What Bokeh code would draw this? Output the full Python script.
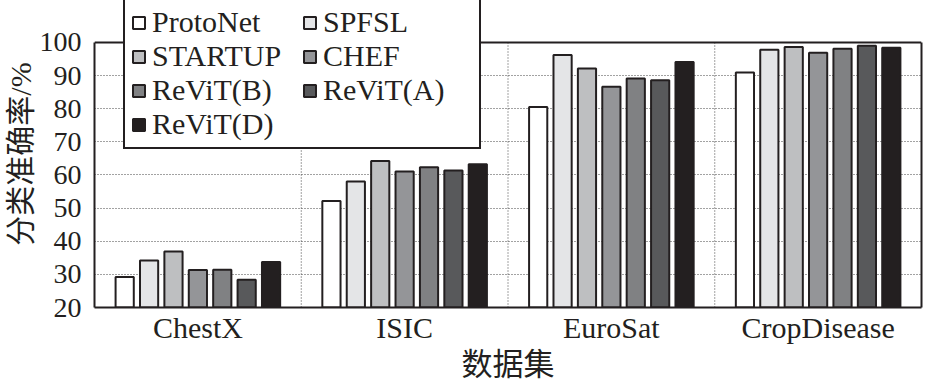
from bokeh.plotting import figure
from bokeh.models import (ColumnDataSource, Range1d, FixedTicker, Legend, LegendItem,
                          LinearAxis, Grid)
from bokeh.transform import dodge
from bokeh.embed import file_html
from bokeh.resources import INLINE

categories = ["ChestX", "ISIC", "EuroSat", "CropDisease"]
methods = ["ProtoNet", "SPFSL", "STARTUP", "CHEF", "ReViT(B)", "ReViT(A)", "ReViT(D)"]
protonet = [29.2, 52.1, 80.5, 90.9]
spfsl = [34.2, 58.0, 96.2, 97.8]
startup = [36.9, 64.2, 92.1, 98.6]
chef = [31.3, 61.0, 86.6, 96.9]
revit_b = [31.4, 62.3, 89.1, 98.1]
revit_a = [28.4, 61.3, 88.6, 99.0]
revit_d = [33.7, 63.2, 94.1, 98.4]
series = [protonet, spfsl, startup, chef, revit_b, revit_a, revit_d]
colors = ["#ffffff", "#e4e5e7", "#bebfc1", "#949598", "#808183", "#58595b", "#231f20"]
y_ticks = [20, 30, 40, 50, 60, 70, 80, 90, 100]

y_lo, y_hi = y_ticks[0], y_ticks[-1]
n_cat = len(categories)
centers = [i + 0.5 for i in range(n_cat)]
data = {"x": centers}
for m, s in zip(methods, series):
    data[m] = s
src = ColumnDataSource(data)

# the frame reaches the top of the canvas so that the legend can rise above the 100 line
y_top = 112.63
p = figure(width=925, height=384, output_backend="svg", toolbar_location=None,
           x_range=Range1d(0, n_cat), y_range=Range1d(y_lo, y_top),
           min_border_left=93, min_border_right=4, min_border_top=0, min_border_bottom=76)
p.outline_line_color = None

dark = "#231f20"
dot = "#444444"

# vertical dotted separators between the dataset groups (from y_lo to y_hi only)
bounds_x = list(range(1, n_cat))
p.segment(x0=bounds_x, y0=[y_lo] * len(bounds_x), x1=bounds_x, y1=[y_hi] * len(bounds_x),
          line_color=dot, line_dash="1 2", line_width=1, level="underlay")

pitch = 0.118
items = {}
for j, m in enumerate(methods):
    r = p.vbar(x=dodge("x", (j - 3) * pitch, range=p.x_range), top=m, bottom=y_lo,
               width=0.088, source=src, fill_color=colors[j],
               line_color=dark, line_width=2)
    items[m] = LegendItem(label=m, renderers=[r])

serif = "Liberation Serif"
cjk = "Liberation Serif, Noto Sans CJK SC"

# axes
p.xaxis.ticker = FixedTicker(ticks=centers)
p.xaxis.major_label_overrides = {c: n for c, n in zip(centers, categories)}
p.xaxis.major_label_text_font = serif
p.xaxis.major_label_text_font_size = "30px"
p.xaxis.major_label_text_color = dark
p.xaxis.major_label_standoff = -3
p.xaxis.major_tick_line_color = None
p.xaxis.minor_tick_line_color = None
p.xaxis.axis_line_width = 2
p.xaxis.axis_line_color = dark
p.xaxis.axis_label = "数据集"
p.xaxis.axis_label_text_font = cjk
p.xaxis.axis_label_text_font_size = "31px"
p.xaxis.axis_label_text_font_style = "normal"
p.xaxis.axis_label_text_color = dark
p.xaxis.axis_label_standoff = 0

p.yaxis.ticker = FixedTicker(ticks=y_ticks)
p.yaxis.bounds = (y_lo, y_hi)
p.yaxis.major_label_text_font = serif
p.yaxis.major_label_text_font_size = "28px"
p.yaxis.major_label_text_color = dark
p.yaxis.major_label_standoff = 7
p.yaxis.major_tick_line_color = None
p.yaxis.minor_tick_line_color = None
p.yaxis.axis_line_width = 2
p.yaxis.axis_line_color = dark
p.yaxis.axis_label = "分类准确率/%"
p.yaxis.axis_label_text_font = cjk
p.yaxis.axis_label_text_font_size = "30px"
p.yaxis.axis_label_text_font_style = "normal"
p.yaxis.axis_label_text_color = dark
p.yaxis.axis_label_standoff = 0

# right border of the plot box
right_axis = LinearAxis(ticker=FixedTicker(ticks=[]), bounds=(y_lo, y_hi),
                        axis_line_width=2, axis_line_color=dark,
                        major_tick_line_color=None, minor_tick_line_color=None)
p.add_layout(right_axis, "right")

# grids
p.xgrid.visible = False
p.ygrid.ticker = FixedTicker(ticks=y_ticks[1:-1])
p.ygrid.grid_line_color = dot
p.ygrid.grid_line_dash = "1 2"
p.ygrid.grid_line_width = 1
top_line = Grid(dimension=1, ticker=FixedTicker(ticks=[y_hi]),
                grid_line_color=dark, grid_line_width=2)
p.add_layout(top_line)

# legend laid out column by column: left column then right column
legend_order = ["ProtoNet", "STARTUP", "ReViT(B)", "ReViT(D)", "SPFSL", "CHEF", "ReViT(A)"]
legend = Legend(items=[items[m] for m in legend_order], nrows=4, location=(29, 158),
                label_text_font=serif, label_text_font_size="30px",
                label_text_color=dark, label_width=150,
                glyph_width=15, glyph_height=15, label_standoff=6,
                spacing=0, padding=6, margin=0,
                border_line_color=dark, border_line_width=2, border_line_alpha=1,
                background_fill_color="white", background_fill_alpha=1)
p.add_layout(legend, "center")

open("out.html", "w").write(file_html(p, INLINE))
